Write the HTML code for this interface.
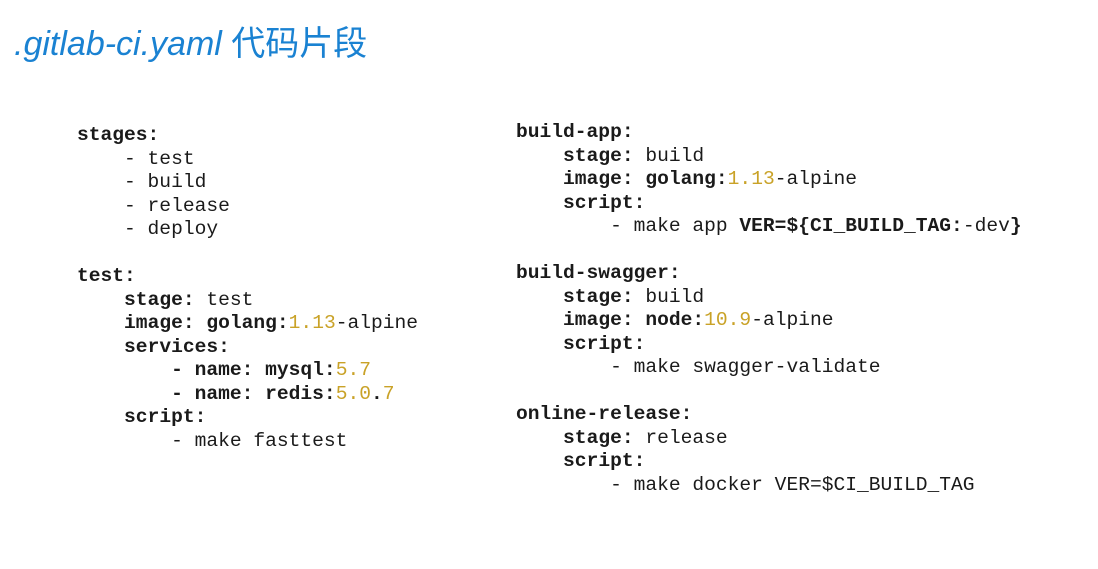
<!DOCTYPE html>
<html><head><meta charset="utf-8"><style>
body{margin:0;width:1098px;height:569px;background:#fff;position:relative;overflow:hidden}
.t{position:absolute;left:14px;top:16px;font-family:"Liberation Sans","Noto Sans CJK SC",sans-serif;font-size:34px;color:#1a82d2;white-space:nowrap}
.t i{font-style:italic}
pre{position:absolute;margin:0;font-family:"Liberation Mono",monospace;font-size:19.6px;line-height:23.5px;color:#1a1a1a}
b{font-weight:bold}
.n{color:#c9a227}
</style></head><body>
<div class="t"><i>.gitlab-ci.yaml</i> 代码片段</div>
<pre style="left:77px;top:124px"><b>stages:</b>
    - test
    - build
    - release
    - deploy

<b>test:</b>
    <b>stage:</b> test
    <b>image: golang:</b><span class="n">1.13</span>-alpine
    <b>services:</b>
        <b>- name: mysql:</b><span class="n">5.7</span>
        <b>- name: redis:</b><span class="n">5.0</span><b>.</b><span class="n">7</span>
    <b>script:</b>
        - make fasttest</pre>
<pre style="left:516px;top:121px"><b>build-app:</b>
    <b>stage:</b> build
    <b>image: golang:</b><span class="n">1.13</span>-alpine
    <b>script:</b>
        - make app <b>VER=${CI_BUILD_TAG:</b>-dev<b>}</b>

<b>build-swagger:</b>
    <b>stage:</b> build
    <b>image: node:</b><span class="n">10.9</span>-alpine
    <b>script:</b>
        - make swagger-validate

<b>online-release:</b>
    <b>stage:</b> release
    <b>script:</b>
        - make docker VER=$CI_BUILD_TAG</pre>
</body></html>
